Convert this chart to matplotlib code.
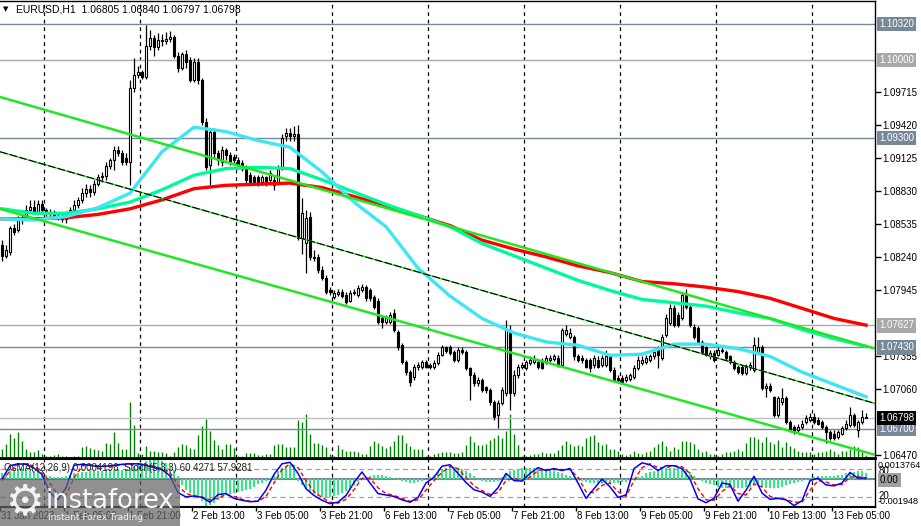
import numpy as np
import pandas as pd
import matplotlib
matplotlib.use("Agg")
import matplotlib.pyplot as plt
from matplotlib.patches import Rectangle
from matplotlib.transforms import blended_transform_factory as blend

plt.rcParams['font.family'] = ['Liberation Sans', 'DejaVu Sans']

# ---------------- data ----------------
title_text = "EURUSD,H1  1.06805 1.06840 1.06797 1.06798"
ind_text = "OsMA(12,26,9) 0.0004196  Stoch(5,3,3) 60.4271 57.9281"

opens = [
1.0835, 1.0825, 1.0828, 1.0850, 1.0848, 1.0857, 1.0861, 1.0866, 1.0869, 1.0864,
1.0871, 1.0866, 1.0863, 1.0864, 1.0861, 1.0860, 1.0858, 1.0862, 1.0866, 1.0870,
1.0875, 1.0881, 1.0885, 1.0882, 1.0889, 1.0895, 1.0896, 1.0905, 1.0911, 1.0920,
1.0917, 1.0912, 1.0909, 1.0975, 1.0987, 1.0989, 1.0985, 1.1013, 1.1020, 1.1012,
1.1018, 1.1017, 1.1019, 1.1021, 1.1004, 1.0993, 1.1005, 1.1000, 1.0982, 1.0998,
1.0982, 1.0945, 1.0906, 1.0936, 1.0917, 1.0909, 1.0920, 1.0915, 1.0913, 1.0911,
1.0908, 1.0903, 1.0897, 1.0895, 1.0895, 1.0891, 1.0895, 1.0893, 1.0893, 1.0891,
1.0903, 1.0932, 1.0935, 1.0932, 1.0934, 1.0841, 1.0836, 1.0860, 1.0824, 1.0824,
1.0812, 1.0805, 1.0794, 1.0788, 1.0791, 1.0793, 1.0790, 1.0785, 1.0792, 1.0790,
1.0794, 1.0797, 1.0794, 1.0788, 1.0785, 1.0769, 1.0766, 1.0766, 1.0774, 1.0757,
1.0745, 1.0730, 1.0721, 1.0717, 1.0726, 1.0726, 1.0730, 1.0727, 1.0726, 1.0729,
1.0736, 1.0743, 1.0743, 1.0739, 1.0732, 1.0741, 1.0739, 1.0725, 1.0718, 1.0711,
1.0714, 1.0708, 1.0705, 1.0694, 1.0683, 1.0693, 1.0702, 1.0759, 1.0702, 1.0718,
1.0726, 1.0725, 1.0729, 1.0730, 1.0730, 1.0731, 1.0730, 1.0732, 1.0733, 1.0734,
1.0727, 1.0755, 1.0752, 1.0752, 1.0735, 1.0734, 1.0732, 1.0732, 1.0727, 1.0732,
1.0727, 1.0727, 1.0735, 1.0723, 1.0716, 1.0716, 1.0714, 1.0715, 1.0717, 1.0725,
1.0729, 1.0730, 1.0732, 1.0735, 1.0741, 1.0734, 1.0754, 1.0765, 1.0778, 1.0772,
1.0769, 1.0790, 1.0779, 1.0761, 1.0760, 1.0748, 1.0743, 1.0735, 1.0738, 1.0736,
1.0741, 1.0739, 1.0735, 1.0730, 1.0726, 1.0726, 1.0720, 1.0726, 1.0723, 1.0739,
1.0743, 1.0707, 1.0709, 1.0699, 1.0683, 1.0694, 1.0698, 1.0676, 1.0672, 1.0669,
1.0672, 1.0676, 1.0678, 1.0681, 1.0678, 1.0676, 1.0672, 1.0667, 1.0666, 1.0663,
1.0666, 1.0671, 1.0674, 1.0683, 1.0669, 1.0676, 1.06805]

highs = [
1.0839, 1.0835, 1.0852, 1.0853, 1.0861, 1.0862, 1.0870, 1.0875, 1.0875, 1.0875,
1.0875, 1.0868, 1.0867, 1.0866, 1.0864, 1.0862, 1.0865, 1.0869, 1.0875, 1.0878,
1.0886, 1.0889, 1.0888, 1.0893, 1.0898, 1.0900, 1.0909, 1.0912, 1.0923, 1.0923,
1.0920, 1.0917, 1.0982, 1.1002, 1.0995, 1.0991, 1.1031, 1.1027, 1.1022, 1.1024,
1.1023, 1.1025, 1.1026, 1.1022, 1.1007, 1.1007, 1.1009, 1.1003, 1.1002, 1.1002,
1.0984, 1.0948, 1.0939, 1.0939, 1.0920, 1.0923, 1.0921, 1.0918, 1.0916, 1.0913,
1.0911, 1.0906, 1.0900, 1.0897, 1.0897, 1.0897, 1.0896, 1.0902, 1.0896, 1.0906,
1.0934, 1.0939, 1.0939, 1.0941, 1.0942, 1.0877, 1.0866, 1.0864, 1.0830, 1.0827,
1.0816, 1.0808, 1.0797, 1.0794, 1.0795, 1.0795, 1.0793, 1.0794, 1.0795, 1.0799,
1.0800, 1.0799, 1.0796, 1.0790, 1.0787, 1.0772, 1.0772, 1.0775, 1.0777, 1.0759,
1.0747, 1.0732, 1.0723, 1.0728, 1.0730, 1.0732, 1.0732, 1.0729, 1.0732, 1.0739,
1.0745, 1.0744, 1.0745, 1.0741, 1.0743, 1.0743, 1.0741, 1.0726, 1.0721, 1.0717,
1.0716, 1.0709, 1.0707, 1.0696, 1.0696, 1.0708, 1.0768, 1.0763, 1.0723, 1.0728,
1.0730, 1.0732, 1.0735, 1.0736, 1.0733, 1.0734, 1.0736, 1.0736, 1.0737, 1.0736,
1.0760, 1.0763, 1.0760, 1.0754, 1.0737, 1.0736, 1.0734, 1.0734, 1.0736, 1.0735,
1.0736, 1.0741, 1.0737, 1.0726, 1.0718, 1.0718, 1.0719, 1.0720, 1.0727, 1.0735,
1.0735, 1.0736, 1.0737, 1.0742, 1.0744, 1.0755, 1.0773, 1.0782, 1.0781, 1.0775,
1.0793, 1.0795, 1.0781, 1.0764, 1.0762, 1.0750, 1.0744, 1.0741, 1.0741, 1.0744,
1.0744, 1.0741, 1.0736, 1.0732, 1.0727, 1.0727, 1.0728, 1.0730, 1.0752, 1.0752,
1.0745, 1.0711, 1.0711, 1.0700, 1.0700, 1.0707, 1.0700, 1.0678, 1.0674, 1.0675,
1.0678, 1.0683, 1.0684, 1.0684, 1.0681, 1.0678, 1.0674, 1.0669, 1.0669, 1.0669,
1.0673, 1.0678, 1.0690, 1.0684, 1.0678, 1.0687, 1.06840]

lows = [
1.0820, 1.0823, 1.0826, 1.0844, 1.0846, 1.0853, 1.0859, 1.0863, 1.0862, 1.0862,
1.0862, 1.0861, 1.0861, 1.0859, 1.0857, 1.0855, 1.0854, 1.0861, 1.0864, 1.0868,
1.0872, 1.0878, 1.0878, 1.0879, 1.0887, 1.0891, 1.0893, 1.0903, 1.0902, 1.0914,
1.0906, 1.0906, 1.0888, 1.0971, 1.0984, 1.0983, 1.0983, 1.1009, 1.1004, 1.1009,
1.1013, 1.1014, 1.1016, 1.1002, 1.0989, 1.0991, 1.0993, 1.0980, 1.0980, 1.0979,
1.0942, 1.0902, 1.0888, 1.0912, 1.0906, 1.0905, 1.0911, 1.0906, 1.0908, 1.0903,
1.0901, 1.0890, 1.0888, 1.0888, 1.0887, 1.0888, 1.0887, 1.0890, 1.0884, 1.0888,
1.0902, 1.0928, 1.0928, 1.0928, 1.0839, 1.0827, 1.0810, 1.0821, 1.0820, 1.0810,
1.0803, 1.0791, 1.0790, 1.0786, 1.0789, 1.0787, 1.0782, 1.0784, 1.0790, 1.0788,
1.0793, 1.0785, 1.0785, 1.0777, 1.0764, 1.0760, 1.0764, 1.0764, 1.0757, 1.0741,
1.0728, 1.0718, 1.0709, 1.0714, 1.0723, 1.0724, 1.0725, 1.0724, 1.0724, 1.0727,
1.0735, 1.0738, 1.0736, 1.0730, 1.0730, 1.0737, 1.0723, 1.0696, 1.0709, 1.0709,
1.0703, 1.0702, 1.0692, 1.0678, 1.0671, 1.0692, 1.0700, 1.0687, 1.0700, 1.0716,
1.0724, 1.0723, 1.0727, 1.0728, 1.0724, 1.0724, 1.0728, 1.0730, 1.0731, 1.0726,
1.0726, 1.0753, 1.0751, 1.0732, 1.0730, 1.0729, 1.0725, 1.0721, 1.0725, 1.0725,
1.0726, 1.0726, 1.0721, 1.0712, 1.0711, 1.0710, 1.0712, 1.0713, 1.0715, 1.0723,
1.0727, 1.0728, 1.0730, 1.0733, 1.0725, 1.0732, 1.0752, 1.0763, 1.0761, 1.0761,
1.0768, 1.0777, 1.0761, 1.0751, 1.0746, 1.0737, 1.0735, 1.0733, 1.0730, 1.0735,
1.0738, 1.0732, 1.0728, 1.0723, 1.0719, 1.0718, 1.0718, 1.0723, 1.0721, 1.0737,
1.0705, 1.0699, 1.0703, 1.0681, 1.0681, 1.0692, 1.0675, 1.0667, 1.0666, 1.0667,
1.0670, 1.0675, 1.0676, 1.0675, 1.0674, 1.0670, 1.0658, 1.0660, 1.0660, 1.0661,
1.0665, 1.0669, 1.0672, 1.0672, 1.0663, 1.0675, 1.06797]

closes = [
1.0825, 1.0830, 1.0850, 1.0846, 1.0857, 1.0859, 1.0866, 1.0869, 1.0864, 1.0871,
1.0866, 1.0863, 1.0864, 1.0861, 1.0860, 1.0858, 1.0862, 1.0866, 1.0870, 1.0875,
1.0881, 1.0885, 1.0882, 1.0889, 1.0895, 1.0896, 1.0905, 1.0911, 1.0920, 1.0917,
1.0909, 1.0909, 1.0975, 1.0987, 1.0989, 1.0985, 1.1013, 1.1020, 1.1012, 1.1018,
1.1017, 1.1019, 1.1021, 1.1004, 1.0993, 1.1005, 1.0998, 1.0982, 1.0998, 1.0982,
1.0945, 1.0904, 1.0936, 1.0917, 1.0911, 1.0920, 1.0915, 1.0909, 1.0911, 1.0906,
1.0903, 1.0893, 1.0891, 1.0891, 1.0891, 1.0895, 1.0891, 1.0899, 1.0888, 1.0903,
1.0930, 1.0935, 1.0932, 1.0934, 1.0841, 1.0863, 1.0859, 1.0824, 1.0823, 1.0812,
1.0805, 1.0793, 1.0793, 1.0792, 1.0793, 1.0789, 1.0784, 1.0792, 1.0793, 1.0796,
1.0797, 1.0787, 1.0787, 1.0779, 1.0766, 1.0766, 1.0769, 1.0772, 1.0759, 1.0743,
1.0730, 1.0721, 1.0712, 1.0726, 1.0727, 1.0730, 1.0726, 1.0726, 1.0729, 1.0736,
1.0743, 1.0740, 1.0738, 1.0732, 1.0741, 1.0739, 1.0725, 1.0718, 1.0711, 1.0714,
1.0705, 1.0705, 1.0694, 1.0681, 1.0693, 1.0705, 1.0759, 1.0702, 1.0718, 1.0726,
1.0727, 1.0730, 1.0732, 1.0733, 1.0726, 1.0725, 1.0734, 1.0734, 1.0735, 1.0727,
1.0759, 1.0759, 1.0756, 1.0735, 1.0732, 1.0732, 1.0726, 1.0725, 1.0734, 1.0726,
1.0734, 1.0735, 1.0723, 1.0714, 1.0714, 1.0712, 1.0717, 1.0718, 1.0725, 1.0732,
1.0732, 1.0734, 1.0735, 1.0739, 1.0736, 1.0752, 1.0769, 1.0778, 1.0763, 1.0763,
1.0790, 1.0779, 1.0763, 1.0752, 1.0748, 1.0739, 1.0736, 1.0738, 1.0732, 1.0741,
1.0740, 1.0734, 1.0730, 1.0725, 1.0721, 1.0720, 1.0726, 1.0727, 1.0745, 1.0743,
1.0707, 1.0709, 1.0705, 1.0683, 1.0698, 1.0698, 1.0676, 1.0669, 1.0667, 1.0672,
1.0675, 1.0680, 1.0681, 1.0676, 1.0675, 1.0672, 1.0667, 1.0662, 1.0662, 1.0667,
1.0671, 1.0675, 1.0683, 1.0674, 1.0676, 1.0681, 1.06798]

volumes = [
900, 1400, 2400, 2000, 2600, 1700, 900, 600, 600, 800,
400, 200, 200, 300, 400, 200, 200, 100, 200, 200,
1100, 1200, 1000, 900, 800, 700, 1500, 1400, 2600, 1500,
900, 900, 5600, 3300, 500, 400, 1200, 700, 700, 600,
600, 500, 200, 600, 1100, 1400, 1300, 1000, 900, 2300,
3200, 3900, 2700, 1800, 1300, 900, 1400, 1400, 1000, 200,
200, 500, 500, 500, 300, 300, 400, 400, 1300, 1400,
1400, 1100, 1100, 1100, 3800, 3600, 4400, 2400, 1500, 1500,
1300, 1100, 400, 200, 1300, 900, 700, 700, 700, 600,
400, 400, 1200, 1700, 1500, 1200, 1000, 1200, 1700, 2300,
2300, 1500, 1200, 900, 900, 900, 200, 200, 400, 500,
600, 600, 600, 500, 500, 600, 1300, 2200, 1600, 1300,
1300, 1400, 1800, 2000, 2300, 2000, 2700, 4400, 2400, 1300,
200, 200, 300, 400, 400, 600, 500, 500, 500, 800,
1300, 1700, 1400, 1200, 1300, 1200, 2000, 2200, 2300, 1600,
1300, 1400, 900, 900, 700, 400, 300, 400, 700, 500,
400, 600, 700, 1100, 1400, 1700, 1200, 700, 1100, 900,
1700, 1700, 1600, 1400, 900, 600, 700, 400, 400, 200,
400, 600, 600, 700, 900, 700, 1500, 2100, 2100, 1900,
1600, 2100, 1600, 1400, 1800, 1100, 1600, 1200, 1000, 700,
600, 600, 600, 400, 600, 600, 700, 900, 700, 400,
700, 700, 900, 1200, 1100, 600, 300]

osma = [
0.00038, 0.00045, 0.00053, 0.00060, 0.00060, 0.00060, 0.00060, 0.00053, 0.00053, 0.00045,
0.00045, 0.00030, 0.00023, 0.00015, 0.00015, 0.00015, 0.00023, 0.00030, 0.00038, 0.00038,
0.00045, 0.00045, 0.00053, 0.00053, 0.00053, 0.00053, 0.00060, 0.00060, 0.00060, 0.00060,
0.00060, 0.00060, 0.00076, 0.00091, 0.00106, 0.00113, 0.00121, 0.00135, 0.00136, 0.00129,
0.00121, 0.00113, 0.00098, 0.00060, 0.00023, -0.00045, -0.00076, -0.00098, -0.00113, -0.00129,
-0.00151, -0.00194, -0.00181, -0.00166, -0.00144, -0.00129, -0.00113, -0.00106, -0.00098, -0.00091,
-0.00083, -0.00076, -0.00068, -0.00053, -0.00038, -0.00030, -0.00015, 0.00008, 0.00030, 0.00053,
0.00076, 0.00091, 0.00098, 0.00098, -0.00015, -0.00045, -0.00068, -0.00091, -0.00106, -0.00121,
-0.00129, -0.00129, -0.00129, -0.00121, -0.00113, -0.00098, -0.00083, -0.00068, -0.00045, -0.00023,
0.00000, 0.00015, 0.00023, 0.00030, 0.00030, 0.00030, 0.00023, 0.00015, 0.00008, -0.00008,
-0.00015, -0.00023, -0.00030, -0.00030, -0.00023, -0.00015, 0.00000, 0.00015, 0.00030, 0.00045,
0.00060, 0.00076, 0.00083, 0.00083, 0.00076, 0.00068, 0.00053, 0.00038, 0.00023, -0.00008,
-0.00015, -0.00023, -0.00023, -0.00023, -0.00015, 0.00015, 0.00038, 0.00053, 0.00060, 0.00068,
0.00076, 0.00076, 0.00076, 0.00076, 0.00068, 0.00068, 0.00060, 0.00060, 0.00053, 0.00045,
0.00038, 0.00030, 0.00023, 0.00008, -0.00008, -0.00015, -0.00023, -0.00030, -0.00030, -0.00038,
-0.00038, -0.00030, -0.00030, -0.00030, -0.00030, -0.00023, -0.00023, -0.00015, 0.00008, 0.00015,
0.00023, 0.00038, 0.00045, 0.00053, 0.00060, 0.00068, 0.00076, 0.00076, 0.00076, 0.00076,
0.00068, 0.00060, 0.00045, 0.00023, 0.00000, -0.00015, -0.00030, -0.00038, -0.00045, -0.00053,
-0.00060, -0.00060, -0.00060, -0.00060, -0.00060, -0.00060, -0.00053, -0.00053, -0.00045, -0.00045,
-0.00053, -0.00060, -0.00060, -0.00060, -0.00060, -0.00053, -0.00045, -0.00038, -0.00030, -0.00023,
-0.00015, -0.00008, 0.00008, 0.00015, 0.00023, 0.00023, 0.00023, 0.00023, 0.00023, 0.00030,
0.00030, 0.00038, 0.00045, 0.00045, 0.00053, 0.00053, 0.0004196]

# stochastic, every second bar
stoch_main = [
58, 86, 90, 89, 81, 68, 30, 15, 40, 87,
89, 87, 84, 85, 87, 89, 90, 90, 87, 82,
78, 65, 30, 21, 23, 20, 10, 26, 28, 18,
14, 11, 12, 35, 68, 90, 93, 70, 38, 24,
14, 7, 10, 24, 51, 73, 50, 28, 25, 22,
15, 10, 20, 50, 62, 85, 88, 70, 51, 36,
31, 22, 40, 70, 55, 54, 70, 82, 76, 80,
76, 80, 50, 18, 38, 58, 42, 20, 25, 80,
92, 88, 76, 86, 86, 80, 58, 17, 9, 18,
50, 47, 12, 35, 64, 29, 16, 18, 15, 3,
13, 55, 60, 46, 44, 50, 72, 60, 60.4271]
stoch_signal = [
55, 75, 88, 90, 85, 75, 50, 25, 25, 60,
86, 88, 86, 85, 86, 88, 89, 90, 89, 85,
80, 72, 45, 28, 23, 21, 15, 18, 26, 22,
16, 12, 12, 22, 50, 78, 90, 82, 55, 32,
20, 10, 8, 16, 36, 60, 60, 40, 28, 24,
18, 12, 15, 35, 55, 72, 85, 80, 62, 44,
34, 26, 30, 55, 60, 55, 62, 76, 78, 78,
78, 78, 62, 32, 30, 45, 50, 32, 22, 55,
82, 90, 82, 82, 86, 84, 70, 38, 15, 14,
32, 45, 28, 25, 48, 42, 22, 18, 16, 10,
10, 35, 55, 52, 46, 47, 62, 64, 57.9281]

# moving averages, every eighth bar
ma_red = [1.0858, 1.0858, 1.0859, 1.0862, 1.0867, 1.0875, 1.0885, 1.0888, 1.0889, 1.0890,
          1.0886, 1.0878, 1.0870, 1.0861, 1.0852, 1.0839, 1.0831, 1.0824, 1.0816, 1.0810,
          1.0802, 1.0800, 1.0797, 1.0793, 1.0787, 1.0778, 1.0769, 1.0763]
ma_mint = [1.0867, 1.0863, 1.0863, 1.0867, 1.0873, 1.0884, 1.0897, 1.0903, 1.0904, 1.0903,
           1.0893, 1.0882, 1.0871, 1.0861, 1.0851, 1.0836, 1.0825, 1.0814, 1.0803, 1.0794,
           1.0786, 1.0783, 1.0780, 1.0774, 1.0769, 1.0759, 1.0751, 1.0744]
ma_cyan = [1.0858, 1.0857, 1.0860, 1.0868, 1.0881, 1.0918, 1.0940, 1.0936, 1.0928, 1.0922,
           1.0900, 1.0873, 1.0851, 1.0814, 1.0789, 1.0769, 1.0756, 1.0748, 1.0745, 1.0736,
           1.0737, 1.0746, 1.0746, 1.0742, 1.0735, 1.0721, 1.0710, 1.0699]

# trend channel (value at left edge, right edge)
chan_upper = [1.0967, 1.0742]
chan_mid = [1.0918, 1.0693]
chan_lower = [1.0867, 1.0647]

level_prices = [1.10320, 1.10000, 1.09300, 1.07627, 1.07430, 1.06700]
level_colors = ['#778899', '#A9A9A9', '#778899', '#A9A9A9', '#778899', '#778899']
bid_price = 1.06798
price_ticks = [1.09715, 1.09420, 1.09125, 1.08830, 1.08535, 1.08240, 1.07945,
               1.07355, 1.07060, 1.06470]

# bar times (hourly, weekdays)
times = pd.date_range("2023-01-31 13:00", "2023-02-13 13:00", freq="h")
times = times[times.dayofweek < 5]
n = len(times)
idx = np.arange(n)

# ---------------- figure ----------------
W, H = 921, 526
fig = plt.figure(figsize=(W / 100, H / 100), dpi=100)
fig.patch.set_facecolor('white')


def pax(x0, y0, x1, y1):
    return fig.add_axes([x0 / W, 1 - y1 / H, (x1 - x0) / W, (y1 - y0) / H])


def ptext(x, y, s, **kw):
    return fig.text(x / W, 1 - y / H, s, **kw)


XL = (-0.5, 218.25)
FS = 7

# volume axes (behind)
axv = pax(0, 1, 875, 458)
axv.set_xlim(XL)
axv.set_ylim(0, max(volumes) * 457 / 56)
axv.vlines(idx, 0, volumes, color='#008000', lw=1.0)
axv.axis('off')

# main price axes
ax = pax(0, 1, 875, 458)
ax.patch.set_visible(False)
ax.set_xlim(XL)
ax.set_ylim(1.06442, 1.10528)

o = np.array(opens); c = np.array(closes); h = np.array(highs); l = np.array(lows)
up = c >= o
ax.vlines(idx, l, h, color='black', lw=0.9, zorder=3)
blo = np.minimum(o, c)
bh = np.maximum(np.abs(c - o), 0.00002)
ax.bar(idx[up], bh[up], bottom=blo[up], width=0.6, color='white',
       edgecolor='black', linewidth=0.8, zorder=4)
ax.bar(idx[~up], bh[~up], bottom=blo[~up], width=0.6, color='black',
       edgecolor='black', linewidth=0.8, zorder=4)

# day separators
sep = [i for i in range(n) if times[i].hour == 0]
for s in sep:
    ax.axvline(s - 0.5, color='black', lw=0.9, dashes=(3, 3), zorder=0.5)

# horizontal levels
for p, col in zip(level_prices, level_colors):
    ax.axhline(p, color=col, lw=1.0, zorder=1)
ax.axhline(bid_price, color='#C0C0C0', lw=1.0, zorder=1)

# moving averages
ma_x = np.arange(0, n, 8)
ax.plot(ma_x, ma_red, color='#FF0000', lw=2.4, zorder=5)
ax.plot(ma_x, ma_mint, color='#00FA9A', lw=2.4, zorder=5)
ax.plot(ma_x, ma_cyan, color='#3CE6F2', lw=2.4, zorder=5)

# channel
ax.plot(XL, chan_upper, color='#22E622', lw=1.8, zorder=6)
ax.plot(XL, chan_lower, color='#22E622', lw=1.8, zorder=6)
ax.plot(XL, chan_mid, color='#22E622', lw=1.0, zorder=6)
ax.plot(XL, chan_mid, color='black', lw=0.8, dashes=(7, 2), zorder=6)

# axes styling
ax.spines['left'].set_visible(False)
ax.spines['top'].set_linewidth(1.0)
ax.spines['right'].set_linewidth(1.0)
ax.spines['bottom'].set_linewidth(2.0)
ax.set_xticks([])
ax.yaxis.tick_right()
ax.set_yticks(price_ticks)
ax.set_yticklabels([f"{p:.5f}" for p in price_ticks], fontsize=FS)
ax.tick_params(axis='y', direction='out', length=4, width=1, pad=1.5)

tr = blend(ax.transAxes, ax.transData)
for p, col in zip(level_prices, level_colors):
    ax.text(1 + 4 / 875, p, f"{p:.5f}", transform=tr, ha='left', va='center',
            fontsize=FS, color='white', clip_on=False, zorder=10,
            bbox=dict(boxstyle='square,pad=0.22', fc=col, ec='none'))
ax.text(1 + 4 / 875, bid_price, f"{bid_price:.5f}", transform=tr, ha='left',
        va='center', fontsize=FS, color='white', clip_on=False, zorder=11,
        bbox=dict(boxstyle='square,pad=0.22', fc='black', ec='none'))

# ---------------- indicator panel ----------------
axi = pax(0, 459, 875, 507)
axi.set_xlim(XL)
axi.set_ylim(-0.001948, 0.0013764)
axi.bar(idx, osma, width=0.6, color='#2FEA85', zorder=2)
axi.axhline(0, color='#778899', lw=1.5, zorder=1)
for s in sep:
    axi.axvline(s - 0.5, color='black', lw=0.9, dashes=(3, 3), zorder=0.5)
axi.spines['left'].set_visible(False)
axi.spines['top'].set_linewidth(1.5)
axi.spines['bottom'].set_linewidth(1.5)
axi.spines['right'].set_linewidth(1.0)
axi.set_yticks([])
lab_idx = list(range(0, n, 16))
axi.set_xticks([i - 0.5 for i in lab_idx])
axi.set_xticklabels([])
axi.tick_params(axis='x', direction='out', length=3, width=1)

axs = pax(0, 459, 875, 507)
axs.patch.set_visible(False)
axs.set_xlim(XL)
axs.set_ylim(0, 100)
axs.axhline(80, color='#A0A0A0', lw=0.9, dashes=(4, 3))
axs.axhline(20, color='#A0A0A0', lw=0.9, dashes=(4, 3))
st_x = np.arange(0, n, 2)
axs.plot(st_x, stoch_signal, color='#FF0000', lw=1.0, dashes=(3, 2))
axs.plot(st_x, stoch_main, color='#0000FF', lw=1.1)
axs.axis('off')

ptext(4, 468, ind_text, fontsize=FS, va='center', ha='left', color='#202020')
ptext(878, 466, "0.0013764", fontsize=6.6, va='center')
ptext(879, 471, "80", fontsize=FS, va='center')
ptext(880, 480, "0.00", fontsize=FS, va='center', color='black',
      bbox=dict(boxstyle='square,pad=0.2', fc='#A0A0A0', ec='none'))
ptext(879, 496, "20", fontsize=FS, va='center')
ptext(878, 501, "-0.001948", fontsize=6.6, va='center')

# time labels
for i in lab_idx:
    t = times[i]
    s = f"{t.day} {t:%b} {t.year}" if i == 0 else f"{t.day} {t:%b %H:%M}"
    ptext(4 * i + 1, 516, s, fontsize=FS, va='center', ha='left')

# title
ptext(3, 9, "\u25BC", fontsize=5, va='center', ha='left', family='DejaVu Sans')
ptext(16, 9, title_text, fontsize=7.5, va='center', ha='left')

# watermark
fig.patches.append(Rectangle((0, 0), 180 / W, (526 - 479) / H, transform=fig.transFigure,
                             fc='#666666', alpha=0.72, ec='none', zorder=20))
ptext(25, 502, "\u2699", fontsize=31, color='white', alpha=0.9, ha='center',
      va='center', family='DejaVu Sans', zorder=21)
ptext(46, 508, "instaforex", fontsize=18.5, color='white', alpha=0.95, ha='left',
      va='baseline', family='DejaVu Sans', zorder=21)
ptext(48, 518, "Instant Forex Trading", fontsize=6.5, color='white', alpha=0.9,
      ha='left', va='center', family='DejaVu Sans', zorder=21)

fig.savefig("out.png", dpi=100, facecolor='white')
